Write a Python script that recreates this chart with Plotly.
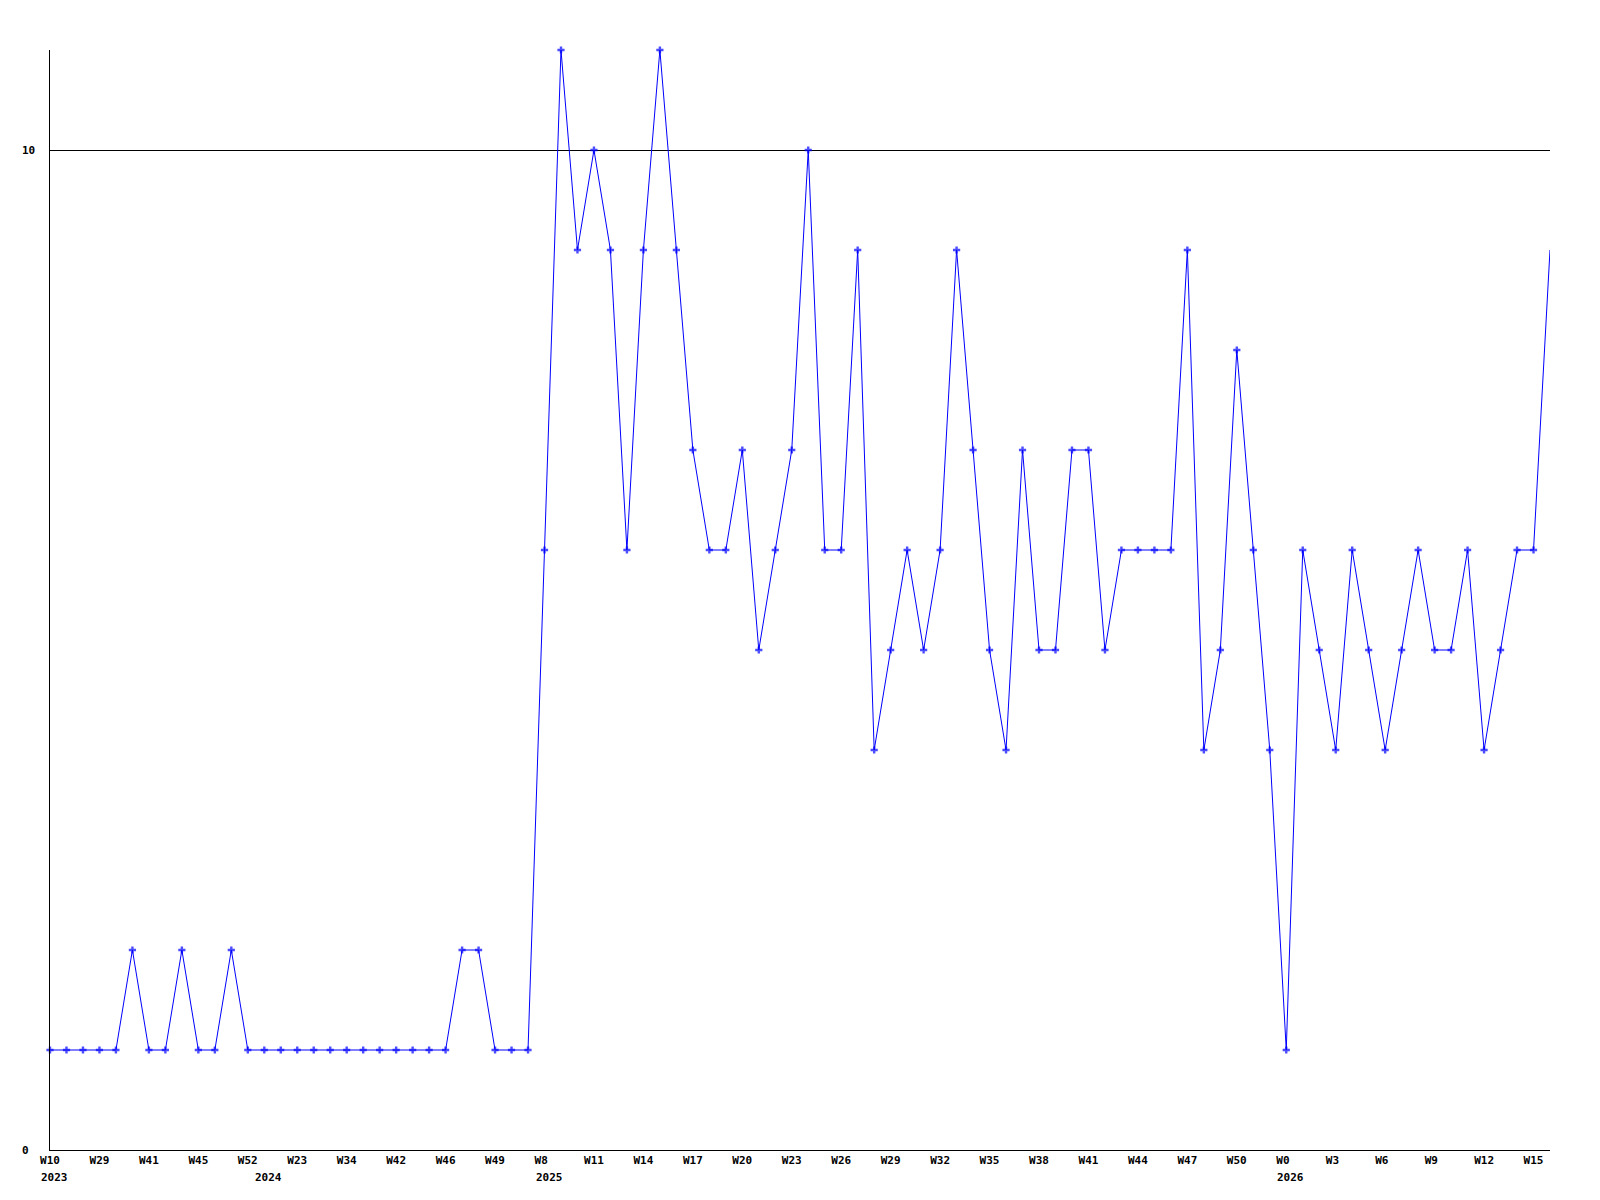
import plotly.graph_objects as go

# ---- data ----
values = [1, 1, 1, 1, 1, 2, 1, 1, 2, 1, 1, 2, 1, 1, 1, 1, 1, 1, 1, 1,
          1, 1, 1, 1, 1, 2, 2, 1, 1, 1,
          6, 11, 9, 10, 9, 6, 9, 11, 9, 7, 6, 6, 7, 5, 6, 7, 10, 6, 6, 9,
          4, 5, 6, 5, 6, 9, 7, 5, 4, 7, 5, 5, 7, 7, 5, 6, 6, 6, 6, 9,
          4, 5, 8, 6, 4, 1, 6, 5, 4, 6, 5, 4, 5, 6, 5, 5, 6, 4, 5, 6, 6, 9]

week_tick_labels = ["W10", "W29", "W41", "W45", "W52", "W23", "W34", "W42", "W46", "W49",
                    "W8", "W11", "W14", "W17", "W20", "W23", "W26", "W29", "W32", "W35",
                    "W38", "W41", "W44", "W47", "W50", "W0", "W3", "W6", "W9", "W12", "W15"]
week_tick_pos = list(range(0, 91, 3))

year_labels = ["2023", "2024", "2025", "2026"]
year_pos = [0, 13, 30, 75]

y_tick_vals = [0, 10]

# ---- figure ----
x = list(range(len(values)))
FONT = "DejaVu Sans Mono"

sizes = [6] * len(values)
sizes[-1] = 0

fig = go.Figure()
fig.add_trace(go.Scatter(
    x=x, y=values, mode="lines+markers",
    line=dict(color="#0000ff", width=1),
    marker=dict(symbol="cross", size=sizes, color="#0000ff", line=dict(width=0)),
    cliponaxis=False, hoverinfo="x+y", showlegend=False,
))

ticktext = [t + "\u00a0" * (3 - len(t)) for t in week_tick_labels]

annotations = []
for v in y_tick_vals:
    annotations.append(dict(
        x=-30 / 1500, xref="paper", y=v, yref="y", text=str(v),
        showarrow=False, xanchor="left", yanchor="middle",
        font=dict(family=FONT, size=11, color="black", weight="bold"),
    ))
for lbl, p in zip(year_labels, year_pos):
    annotations.append(dict(
        x=p, xref="x", y=0, yref="paper", text=lbl, showarrow=False,
        xanchor="left", yanchor="middle", xshift=-11, yshift=-27,
        font=dict(family=FONT, size=11, color="black", weight="bold"),
    ))

fig.update_layout(
    width=1600, height=1200,
    margin=dict(l=50, r=50, t=50, b=50),
    paper_bgcolor="white", plot_bgcolor="white",
    annotations=annotations,
    xaxis=dict(
        range=[0, 91], showgrid=False, zeroline=False,
        showline=True, linecolor="black", linewidth=1,
        tickmode="array", tickvals=week_tick_pos, ticktext=ticktext,
        ticks="", tickangle=0,
        tickfont=dict(family=FONT, size=11, color="black", weight="bold"),
    ),
    yaxis=dict(
        range=[0, 11], showgrid=True, gridcolor="black", gridwidth=1,
        zeroline=False, showline=True, linecolor="black", linewidth=1,
        tickmode="array", tickvals=y_tick_vals, showticklabels=False, ticks="",
    ),
)

fig.write_html("out.html", config={"displayModeBar": False},
               post_script="document.body.style.margin='0';document.body.style.overflow='hidden';")
